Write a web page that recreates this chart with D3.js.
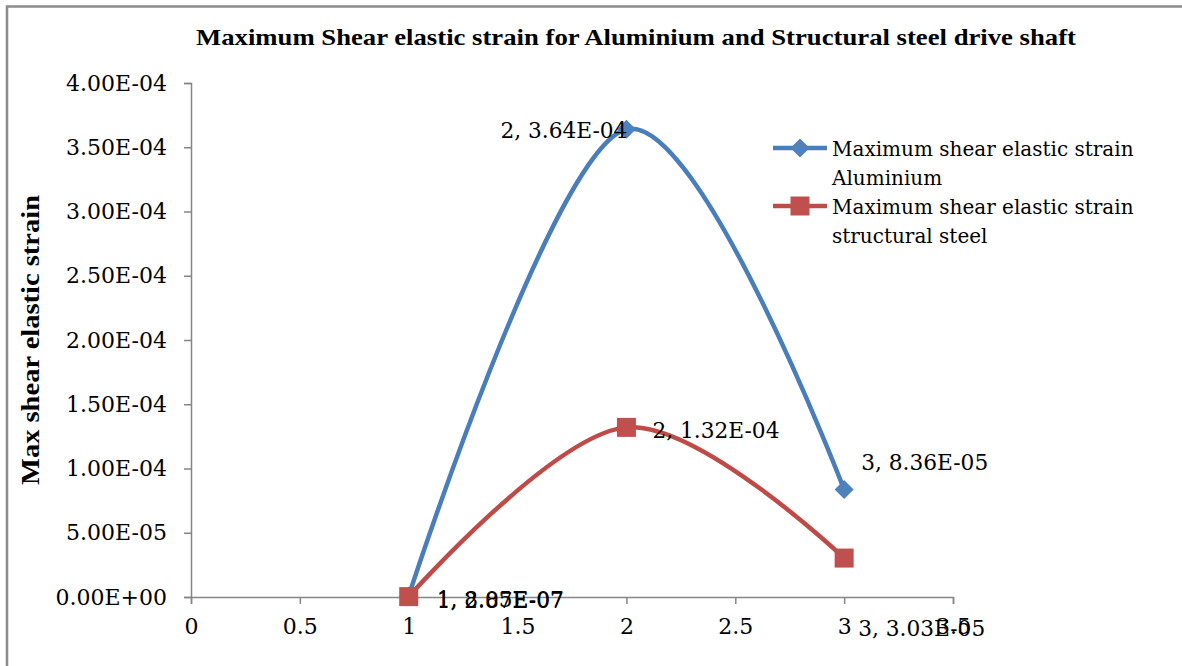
<!DOCTYPE html>
<html>
<head>
<meta charset="utf-8">
<script src="https://cdn.jsdelivr.net/npm/d3@7"></script>
<style>
  html, body { margin: 0; padding: 0; background: #fff; }
  svg { display: block; }
</style>
</head>
<body>
<svg id="chart" width="1182" height="666"></svg>
<script>
// Shaft positions and maximum shear elastic strain for the two materials
const positions = [1, 2, 3];
const aluminiumStrain = [8.05e-7, 3.64e-4, 8.36e-5];
const steelStrain = [2.87e-7, 1.32e-4, 3.03e-5];
const seriesNames = [
  ["Maximum shear elastic strain", "Aluminium"],
  ["Maximum shear elastic strain", "structural steel"]
];
const xTickValues = [0, 0.5, 1, 1.5, 2, 2.5, 3, 3.5];
const yTickValues = [0, 5e-5, 1e-4, 1.5e-4, 2e-4, 2.5e-4, 3e-4, 3.5e-4, 4e-4];
const chartTitle = "Maximum Shear elastic strain for Aluminium and Structural steel drive shaft";
const yAxisTitle = "Max shear elastic strain";

const svg = d3.select("#chart");
const serif = "'DejaVu Serif', serif";
const axisGrey = "#868686";

const plot = { left: 191, right: 953, top: 83, bottom: 597 };
const x = d3.scaleLinear().domain([0, 3.5]).range([plot.left, plot.right]);
const y = d3.scaleLinear().domain([0, 4e-4]).range([plot.bottom, plot.top]);

// Excel-style scientific notation, e.g. 3.64E-04
function sci(v) {
  const [m, e] = v.toExponential(2).split("e");
  const n = parseInt(e, 10);
  return m + "E" + (n < 0 ? "-" : "+") + String(Math.abs(n)).padStart(2, "0");
}

// outer frame
svg.append("path")
  .attr("d", "M7,700 L7,6.5 L1200,6.5")
  .attr("fill", "none").attr("stroke", "#8c8c8c").attr("stroke-width", 2.5);

// title
svg.append("text")
  .attr("x", 636).attr("y", 45)
  .attr("text-anchor", "middle")
  .attr("font-family", "'Liberation Serif', 'Times New Roman', serif")
  .attr("font-weight", "bold").attr("font-size", 24)
  .attr("textLength", 880).attr("lengthAdjust", "spacingAndGlyphs")
  .text(chartTitle);

// y axis
const yAxis = d3.axisLeft(y).tickValues(yTickValues).tickFormat(sci).tickSize(7).tickPadding(17);
const gy = svg.append("g").attr("transform", `translate(${plot.left},0)`).call(yAxis);
gy.select(".domain").attr("stroke", axisGrey).attr("stroke-width", 1.5);
gy.selectAll(".tick line").attr("stroke", axisGrey).attr("stroke-width", 1.5);
gy.selectAll(".tick text").attr("font-family", serif).attr("font-size", 22).attr("fill", "#000");

// x axis
const xAxis = d3.axisBottom(x).tickValues(xTickValues).tickFormat(d3.format("")).tickSize(7).tickPadding(14);
const gx = svg.append("g").attr("transform", `translate(0,${plot.bottom})`).call(xAxis);
gx.select(".domain").attr("stroke", axisGrey).attr("stroke-width", 1.5);
gx.selectAll(".tick line").attr("stroke", axisGrey).attr("stroke-width", 1.5);
gx.selectAll(".tick text").attr("font-family", serif).attr("font-size", 22).attr("fill", "#000");

// y axis title
svg.append("text")
  .attr("transform", "translate(39,340) rotate(-90)")
  .attr("text-anchor", "middle")
  .attr("font-family", "'Liberation Serif', serif")
  .attr("font-weight", "bold").attr("font-size", 25)
  .attr("textLength", 290).attr("lengthAdjust", "spacingAndGlyphs")
  .text(yAxisTitle);

const series = [
  { values: aluminiumStrain, color: "#4A7EBB", fill: "#4F81BD", marker: "diamond" },
  { values: steelStrain, color: "#BE4B48", fill: "#C0504D", marker: "square" }
];

const line = d3.line()
  .x((d, i) => x(positions[i]))
  .y(d => y(d))
  .curve(d3.curveCardinal.tension(0));

function drawMarker(g, type, cx, cy, fill) {
  if (type === "diamond") {
    const r = 9.5;
    g.append("path")
      .attr("d", `M${cx},${cy - r} L${cx + r},${cy} L${cx},${cy + r} L${cx - r},${cy} Z`)
      .attr("fill", fill);
  } else {
    const s = 19;
    g.append("rect")
      .attr("x", cx - s / 2).attr("y", cy - s / 2)
      .attr("width", s).attr("height", s)
      .attr("fill", fill);
  }
}

series.forEach(s => {
  svg.append("path")
    .datum(s.values)
    .attr("d", line)
    .attr("fill", "none")
    .attr("stroke", s.color)
    .attr("stroke-width", 4.5)
    .attr("stroke-linecap", "round");
  const g = svg.append("g");
  s.values.forEach((v, i) => drawMarker(g, s.marker, x(positions[i]), y(v), s.fill));
});

// data labels: offsets (dx, dy, anchor) for each series / point
const labelOffsets = [
  [[28, 11, "start"], [1, 9, "end"], [17, -20, "start"]],
  [[28, 11, "start"], [26, 11, "start"], [14, 78, "start"]]
];
series.forEach((s, si) => {
  s.values.forEach((v, i) => {
    const [dx, dy, anchor] = labelOffsets[si][i];
    svg.append("text")
      .attr("x", x(positions[i]) + dx)
      .attr("y", y(v) + dy)
      .attr("text-anchor", anchor)
      .attr("font-family", serif).attr("font-size", 21.7)
      .attr("fill", "#000")
      .text(positions[i] + ", " + sci(v));
  });
});

// legend
const legend = svg.append("g");
series.forEach((s, i) => {
  const ly = 148 + i * 58;
  legend.append("line")
    .attr("x1", 773).attr("x2", 827).attr("y1", ly).attr("y2", ly)
    .attr("stroke", s.color).attr("stroke-width", 4.5);
  drawMarker(legend, s.marker, 800, ly, s.fill);
  seriesNames[i].forEach((t, k) => {
    legend.append("text")
      .attr("x", 832).attr("y", ly + 8 + k * 29)
      .attr("font-family", serif).attr("font-size", 20)
      .attr("fill", "#000")
      .text(t);
  });
});
</script>
</body>
</html>
